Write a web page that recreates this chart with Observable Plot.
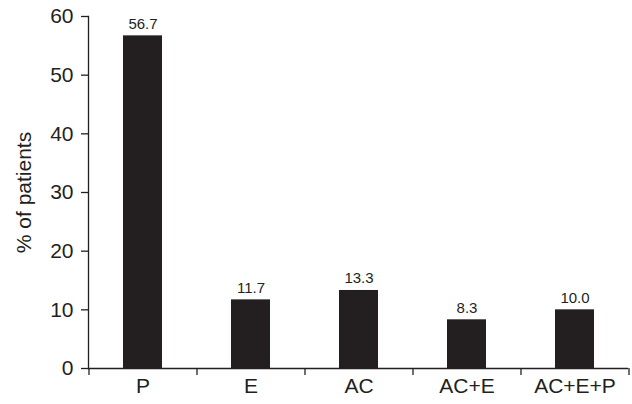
<!DOCTYPE html>
<html>
<head>
<meta charset="utf-8">
<script src="https://cdn.jsdelivr.net/npm/d3@7"></script>
<script src="https://cdn.jsdelivr.net/npm/@observablehq/plot@0.6"></script>
<style>
  html, body { margin: 0; padding: 0; background: #fff; }
  svg { font-family: "Liberation Sans", Arial, sans-serif; }
</style>
</head>
<body>
<div id="chart"></div>
<script>
const categories = ["P", "E", "AC", "AC+E", "AC+E+P"];
const values = [56.7, 11.7, 13.3, 8.3, 10.0];
const yTicks = [0, 10, 20, 30, 40, 50, 60];
const yLabel = "% of patients";

const data = categories.map((c, i) => ({category: c, value: values[i]}));
const ink = "#231f20";

const chart = Plot.plot({
  width: 632,
  height: 404,
  marginLeft: 88,
  marginRight: 4,
  marginTop: 16,
  marginBottom: 36,
  style: {fontFamily: "'Liberation Sans', Arial, sans-serif", fontSize: "21px", color: ink, background: "#fff"},
  x: {domain: categories, paddingInner: 0.64, paddingOuter: 0.32, align: 0.5},
  y: {domain: [0, 60]},
  marks: [
    Plot.barY(data, {x: "category", y: "value", fill: ink}),
    Plot.text(data, {x: "category", y: "value", text: d => d.value.toFixed(1), dy: -12, fontSize: 15, fill: ink}),
    Plot.ruleY([0], {stroke: ink, strokeWidth: 1.3}),
    Plot.frame({anchor: "left", stroke: ink, strokeWidth: 1.3}),
    Plot.axisY({ticks: yTicks, tickSize: 7, tickPadding: 8, fontSize: 21, stroke: ink, strokeWidth: 1.3,
      label: yLabel, labelAnchor: "center", labelArrow: "none", labelOffset: 72}),
    Plot.axisX({tickSize: 0, tickPadding: 10, fontSize: 21, label: null}),
    Plot.axisX({tickSize: 7, text: null, dx: 54, label: null, stroke: ink, strokeWidth: 1.3}),
    Plot.axisX([categories[0]], {tickSize: 7, text: null, dx: -54, label: null, stroke: ink, strokeWidth: 1.3})
  ]
});
document.getElementById("chart").appendChild(chart);
</script>
</body>
</html>
